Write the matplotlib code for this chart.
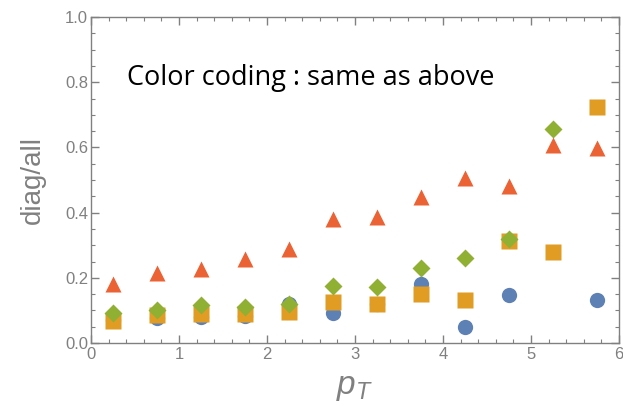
import numpy as np
import matplotlib
matplotlib.use("Agg")
import matplotlib.pyplot as plt
from matplotlib.ticker import MultipleLocator, FormatStrFormatter

pt = [0.25, 0.75, 1.25, 1.75, 2.25, 2.75, 3.25, 3.75, 4.25, 4.75, 5.25, 5.75]
blue = [0.07, 0.077, 0.08, 0.083, 0.12, 0.092, 0.12, 0.18, 0.05, 0.147, np.nan, 0.132]
orange = [0.068, 0.086, 0.089, 0.088, 0.096, 0.126, 0.12, 0.15, 0.132, 0.313, 0.28, 0.723]
green = [0.092, 0.101, 0.117, 0.111, 0.12, 0.175, 0.173, 0.23, 0.26, 0.318, 0.655, np.nan]
red = [0.18, 0.216, 0.227, 0.258, 0.288, 0.38, 0.386, 0.449, 0.506, 0.482, 0.607, 0.598]

plt.rcParams['mathtext.fontset'] = 'custom'
plt.rcParams['mathtext.it'] = 'Liberation Sans:italic'
plt.rcParams['mathtext.rm'] = 'Liberation Sans'

fig = plt.figure(figsize=(6.23, 4.15), dpi=100)
ax = fig.add_axes([0.146, 0.1735, 0.8476, 0.7855])

ax.plot(pt, blue, 'o', color='#5E81B5', ms=11, mec='none', zorder=3)
ax.plot(pt, orange, 's', color='#E19C24', ms=11.5, mec='none', zorder=4)
ax.plot(pt, green, 'D', color='#8FB032', ms=9, mec='none', zorder=5)
ax.plot(pt, red, '^', color='#EB6235', ms=12, mec='none', zorder=6)

ax.set_xlim(0, 6)
ax.set_ylim(0, 1.0)
ax.xaxis.set_major_locator(MultipleLocator(1))
ax.xaxis.set_minor_locator(MultipleLocator(0.2))
ax.yaxis.set_major_locator(MultipleLocator(0.2))
ax.yaxis.set_minor_locator(MultipleLocator(0.05))
ax.yaxis.set_major_formatter(FormatStrFormatter('%.1f'))

gray = '#808080'
for s in ax.spines.values():
    s.set_color(gray)
    s.set_linewidth(1.0)
ax.tick_params(which='both', direction='in', top=True, right=True, colors=gray,
               labelcolor=gray, labelsize=12)
ax.tick_params(which='major', length=6, width=1)
ax.tick_params(which='minor', length=3, width=0.8)
ax.tick_params(axis='x', pad=3)
ax.tick_params(axis='y', pad=2)
for lab in ax.get_xticklabels() + ax.get_yticklabels():
    lab.set_family('Liberation Sans')

ax.set_ylabel('diag/all', fontsize=20, color=gray, labelpad=14, family='Liberation Sans')
ax.set_xlabel(r'$p_T$', fontsize=24, color=gray, labelpad=6)

ax.text(0.068, 0.813, 'Color coding : same as above', transform=ax.transAxes,
        fontsize=19.5, color='black', family='Open Sans', va='center')

fig.savefig('out.png', dpi=100)
